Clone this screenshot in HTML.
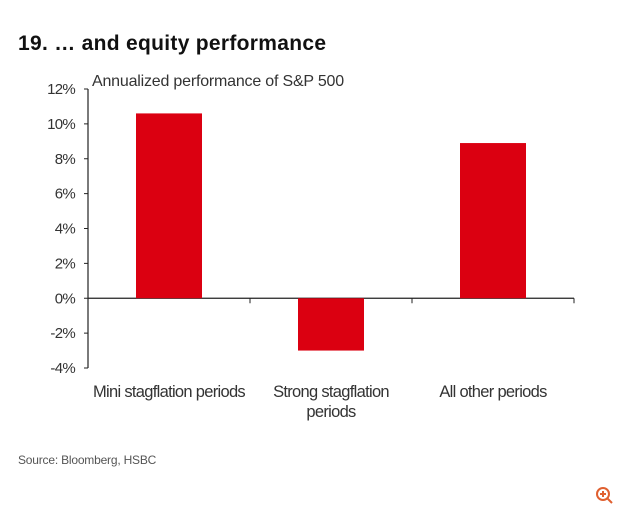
<!DOCTYPE html>
<html><head><meta charset="utf-8"><style>
body{margin:0;background:#fff;width:624px;height:513px;overflow:hidden;font-family:"Liberation Sans",sans-serif}
</style></head><body>
<svg width="624" height="513">
<text x="18" y="50" font-size="21" font-weight="bold" fill="#111" letter-spacing="0.3">19. … and equity performance</text>
<text x="92" y="86" font-size="16" fill="#333" letter-spacing="-0.2">Annualized performance of S&amp;P 500</text>
<g id="axes"></g><g id="bars"></g>
<text x="18" y="464" font-size="12" fill="#555" letter-spacing="-0.2">Source: Bloomberg, HSBC</text>
<g stroke="#e06030" stroke-width="2" fill="none">
<circle cx="603" cy="494" r="6"/><line x1="607" y1="498" x2="612" y2="503"/><line x1="600" y1="494" x2="606" y2="494"/><line x1="603" y1="491" x2="603" y2="497"/></g>
</svg>
<script>
const categories=[["Mini stagflation periods"],["Strong stagflation","periods"],["All other periods"]];
const values=[10.6,-3.0,8.9];
const ticks=[-4,-2,0,2,4,6,8,10,12];
const NS="http://www.w3.org/2000/svg";
const x0=88,x1=574,yTop=89,yBot=368,vmin=-4,vmax=12;
const y=v=>yBot-(v-vmin)/(vmax-vmin)*(yBot-yTop);
const bw=(x1-x0)/categories.length;
function mk(t,a,p){const e=document.createElementNS(NS,t);for(const k in a)e.setAttribute(k,a[k]);p.appendChild(e);return e;}
const ax=document.getElementById('axes'),bg=document.getElementById('bars');
const ya=mk('line',{x1:x0,y1:yTop,x2:x0,y2:yBot,stroke:'#222','stroke-width':1.2},ax);


const xa=mk('line',{x1:x0,y1:y(0),x2:x1,y2:y(0),stroke:'#222','stroke-width':1.2},ax);


ticks.forEach(t=>{
 mk('line',{x1:x0-4,y1:y(t),x2:x0,y2:y(t),stroke:'#222'},ax);
 const tx=mk('text',{x:x0-13,y:y(t)+5,'font-size':15,fill:'#333','text-anchor':'end','letter-spacing':'-0.7'},ax);
 tx.textContent=t+'%';
 
 
});
for(let i=0;i<=categories.length;i++) mk('line',{x1:x0+i*bw,y1:y(0),x2:x0+i*bw,y2:y(0)+5,stroke:'#222'},ax);
values.forEach((v,i)=>{
 const cx=x0+bw*(i+0.5),w=66;
 const r=mk('rect',{x:cx-w/2,y:Math.min(y(v),y(0)),width:w,height:Math.abs(y(v)-y(0)),fill:'#db0011'},bg);
 
 
 categories[i].forEach((line,j)=>{
  const t=mk('text',{x:cx,y:397+j*20,'font-size':16.5,fill:'#333','text-anchor':'middle','letter-spacing':'-0.7'},ax);
  t.textContent=line;
  
  
 });
});
</script>
</body></html>
